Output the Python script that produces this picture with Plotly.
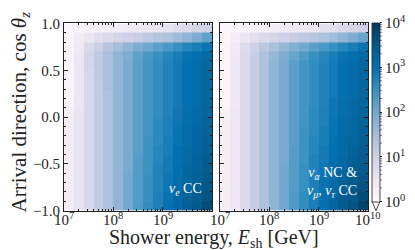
import math
import plotly.graph_objects as go

# ---------------- data ----------------
energy_edges_log10 = [7.0, 7.2, 7.4, 7.6, 7.8, 8.0, 8.2, 8.4, 8.6, 8.8, 9.0, 9.2, 9.4, 9.6, 9.8, 10.0]
cos_zenith_edges = [-1.0, -0.9, -0.8, -0.7, -0.6, -0.5, -0.4, -0.3, -0.2, -0.1, 0.0,
                    0.1, 0.2, 0.3, 0.4, 0.5, 0.6, 0.7, 0.8, 0.9, 1.0]

# log10(effective volume / km^3); rows listed from cos=1 (top) down to cos=-1 (bottom)
veff_log10_nue_cc = [
    [0.05, 0.10, 0.20, 0.25, 0.30, 0.35, 0.40, 0.45, 0.50, 0.55, 0.60, 0.70, 0.80, 0.90, 1.00],
    [0.10, 0.35, 0.55, 0.70, 0.80, 0.90, 1.00, 1.10, 1.20, 1.30, 1.40, 1.55, 1.70, 1.90, 2.15],
    [0.15, 0.45, 0.80, 1.05, 1.30, 1.50, 1.70, 1.90, 2.05, 2.20, 2.35, 2.50, 2.65, 2.80, 2.95],
    [0.15, 0.50, 0.90, 1.20, 1.45, 1.70, 1.90, 2.15, 2.35, 2.50, 2.65, 2.80, 2.95, 3.05, 3.15],
    [0.10, 0.50, 0.90, 1.20, 1.45, 1.70, 1.95, 2.20, 2.40, 2.55, 2.70, 2.85, 3.00, 3.10, 3.20],
    [0.10, 0.50, 0.85, 1.20, 1.45, 1.70, 1.95, 2.20, 2.40, 2.55, 2.70, 2.85, 3.00, 3.10, 3.20],
    [0.10, 0.50, 0.85, 1.15, 1.45, 1.70, 1.95, 2.20, 2.40, 2.55, 2.70, 2.85, 3.00, 3.10, 3.20],
    [0.10, 0.50, 0.85, 1.15, 1.40, 1.70, 1.95, 2.20, 2.40, 2.55, 2.70, 2.85, 3.00, 3.10, 3.20],
    [0.15, 0.50, 0.85, 1.15, 1.40, 1.70, 1.95, 2.20, 2.40, 2.55, 2.70, 2.85, 3.00, 3.10, 3.25],
    [0.25, 0.55, 0.85, 1.15, 1.40, 1.70, 1.95, 2.20, 2.40, 2.55, 2.70, 2.90, 3.05, 3.15, 3.25],
    [0.30, 0.55, 0.85, 1.15, 1.40, 1.70, 1.95, 2.20, 2.40, 2.60, 2.75, 2.90, 3.05, 3.15, 3.30],
    [0.30, 0.55, 0.85, 1.15, 1.40, 1.70, 1.95, 2.20, 2.40, 2.60, 2.75, 2.95, 3.10, 3.20, 3.30],
    [0.30, 0.55, 0.85, 1.15, 1.40, 1.70, 1.95, 2.20, 2.45, 2.60, 2.80, 2.95, 3.10, 3.20, 3.35],
    [0.30, 0.55, 0.85, 1.15, 1.40, 1.70, 1.95, 2.20, 2.45, 2.65, 2.80, 3.00, 3.15, 3.25, 3.35],
    [0.30, 0.55, 0.85, 1.15, 1.40, 1.70, 1.95, 2.25, 2.45, 2.65, 2.85, 3.00, 3.15, 3.30, 3.40],
    [0.30, 0.55, 0.85, 1.15, 1.40, 1.70, 1.95, 2.25, 2.45, 2.70, 2.85, 3.05, 3.20, 3.30, 3.45],
    [0.30, 0.55, 0.85, 1.15, 1.40, 1.70, 2.00, 2.25, 2.50, 2.70, 2.90, 3.05, 3.20, 3.35, 3.50],
    [0.30, 0.55, 0.85, 1.15, 1.40, 1.70, 2.00, 2.25, 2.50, 2.70, 2.90, 3.10, 3.25, 3.40, 3.55],
    [0.30, 0.55, 0.85, 1.15, 1.40, 1.70, 2.00, 2.25, 2.50, 2.75, 2.95, 3.15, 3.30, 3.45, 3.60],
    [0.30, 0.55, 0.85, 1.15, 1.40, 1.70, 2.00, 2.30, 2.55, 2.75, 3.00, 3.15, 3.35, 3.50, 3.70],
]

veff_log10_nc_numu_nutau_cc = [
    [0.05, 0.10, 0.15, 0.20, 0.25, 0.30, 0.35, 0.40, 0.45, 0.50, 0.60, 0.70, 0.80, 0.90, 1.00],
    [0.05, 0.30, 0.50, 0.65, 0.80, 0.90, 1.00, 1.10, 1.20, 1.30, 1.40, 1.55, 1.70, 1.90, 2.10],
    [0.10, 0.40, 0.75, 1.00, 1.25, 1.45, 1.65, 1.85, 2.00, 2.20, 2.35, 2.50, 2.65, 2.80, 2.95],
    [0.10, 0.45, 0.80, 1.10, 1.40, 1.65, 1.90, 2.10, 2.30, 2.50, 2.65, 2.80, 2.95, 3.05, 3.15],
    [0.05, 0.45, 0.80, 1.10, 1.40, 1.70, 1.95, 2.20, 2.40, 2.55, 2.70, 2.85, 3.00, 3.10, 3.20],
    [0.05, 0.45, 0.80, 1.10, 1.40, 1.70, 1.95, 2.20, 2.40, 2.55, 2.70, 2.85, 3.00, 3.10, 3.20],
    [0.05, 0.45, 0.80, 1.10, 1.40, 1.70, 1.95, 2.20, 2.40, 2.55, 2.70, 2.85, 3.00, 3.10, 3.20],
    [0.05, 0.45, 0.80, 1.10, 1.40, 1.70, 1.95, 2.20, 2.40, 2.55, 2.70, 2.85, 3.00, 3.10, 3.25],
    [0.10, 0.45, 0.80, 1.10, 1.40, 1.70, 1.95, 2.20, 2.40, 2.55, 2.70, 2.90, 3.05, 3.15, 3.25],
    [0.20, 0.50, 0.80, 1.10, 1.40, 1.70, 1.95, 2.20, 2.40, 2.60, 2.75, 2.90, 3.05, 3.15, 3.30],
    [0.25, 0.50, 0.80, 1.10, 1.40, 1.70, 1.95, 2.20, 2.40, 2.60, 2.75, 2.95, 3.10, 3.20, 3.30],
    [0.25, 0.50, 0.80, 1.10, 1.40, 1.70, 1.95, 2.20, 2.45, 2.60, 2.80, 2.95, 3.10, 3.20, 3.35],
    [0.25, 0.50, 0.80, 1.10, 1.40, 1.70, 1.95, 2.20, 2.45, 2.65, 2.80, 3.00, 3.15, 3.25, 3.35],
    [0.25, 0.50, 0.80, 1.10, 1.40, 1.70, 1.95, 2.25, 2.45, 2.65, 2.85, 3.00, 3.15, 3.30, 3.40],
    [0.25, 0.50, 0.80, 1.10, 1.40, 1.70, 1.95, 2.25, 2.45, 2.70, 2.85, 3.05, 3.20, 3.35, 3.45],
    [0.25, 0.50, 0.80, 1.10, 1.40, 1.70, 2.00, 2.25, 2.50, 2.70, 2.90, 3.10, 3.25, 3.40, 3.50],
    [0.25, 0.50, 0.80, 1.10, 1.40, 1.70, 2.00, 2.25, 2.50, 2.75, 2.95, 3.10, 3.30, 3.45, 3.55],
    [0.25, 0.50, 0.80, 1.10, 1.40, 1.70, 2.00, 2.25, 2.50, 2.75, 2.95, 3.15, 3.35, 3.50, 3.60],
    [0.25, 0.50, 0.80, 1.10, 1.40, 1.70, 2.00, 2.30, 2.55, 2.80, 3.00, 3.20, 3.40, 3.55, 3.70],
    [0.25, 0.50, 0.80, 1.10, 1.40, 1.70, 2.00, 2.30, 2.55, 2.80, 3.05, 3.25, 3.45, 3.60, 3.80],
]

x_tick_exponents_left = [7, 8, 9]
x_tick_exponents_right = [7, 8, 9, 10]
y_tick_values = [-1.0, -0.5, 0.0, 0.5, 1.0]
y_tick_labels = ["\u22121.0", "\u22120.5", "0.0", "0.5", "1.0"]
colorbar_exponents = [0, 1, 2, 3, 4]

panel_labels = ["<i>\u03bd<sub>e</sub></i> CC",
                "<i>\u03bd<sub>\u03b1</sub></i> NC &amp;<br><i>\u03bd<sub>\u03bc</sub></i>, <i>\u03bd<sub>\u03c4</sub></i> CC"]

# ---------------- figure ----------------
W, H = 415, 250
FONT = "Liberation Serif"
INK = "#222222"
TICK_SIZE = 15

def px(x):
    return x / W

def py(y):
    return 1 - y / H

x_edges = [10 ** e for e in energy_edges_log10]

cb_x0, cb_x1, cb_top, cb_bot, cb_tip = 364, 372, 7, 198, 208

fig = go.Figure()
for i, data in enumerate([veff_log10_nue_cc, veff_log10_nc_numu_nutau_cc]):
    fig.add_trace(go.Heatmap(
        x=x_edges, y=cos_zenith_edges, z=data[::-1],
        colorscale="PuBu", zmin=0, zmax=4,
        xaxis="x" if i == 0 else "x2", yaxis="y" if i == 0 else "y2",
        showscale=(i == 1),
        colorbar=dict(
            x=px(cb_x0), xanchor="left", y=py(cb_top), yanchor="top",
            len=(cb_bot - cb_top) / H, lenmode="fraction",
            thickness=cb_x1 - cb_x0, thicknessmode="pixels",
            xpad=0, ypad=0, outlinewidth=0.8, outlinecolor=INK,
            tickvals=colorbar_exponents,
            ticktext=[f"10<sup>{e}</sup>" for e in colorbar_exponents],
            ticks="outside", ticklen=2, tickwidth=0.8, tickcolor=INK,
            ticklabeloverflow="allow",
            tickfont=dict(family=FONT, size=TICK_SIZE, color=INK),
        ),
    ))

axis_common = dict(showgrid=False, zeroline=False, showline=True, linecolor=INK, linewidth=0.8,
                   mirror="allticks", ticks="inside", ticklen=4, tickwidth=0.8, tickcolor=INK,
                   ticklabeloverflow="allow",
                   tickfont=dict(family=FONT, size=TICK_SIZE, color=INK))
minor_log = dict(ticks="inside", ticklen=2, tickwidth=0.6, tickcolor=INK, dtick="D1", showgrid=False)
minor_lin = dict(ticks="inside", ticklen=2, tickwidth=0.6, tickcolor=INK, dtick=0.1, showgrid=False)

fig.update_layout(
    width=W, height=H, margin=dict(l=0, r=0, t=0, b=0),
    paper_bgcolor="white", plot_bgcolor="white",
    font=dict(family=FONT, size=TICK_SIZE, color=INK),
    xaxis=dict(domain=[px(56), px(204)], type="log", range=[7, 10], anchor="y",
               tickvals=[10 ** e for e in x_tick_exponents_right], showticklabels=False,
               minor=minor_log, **axis_common),
    xaxis2=dict(domain=[px(212), px(360)], type="log", range=[7, 10], anchor="y2",
                tickvals=[10 ** e for e in x_tick_exponents_right], showticklabels=False,
                minor=minor_log, **axis_common),
    yaxis=dict(domain=[py(208), py(8)], range=[-1, 1], anchor="x",
               tickvals=y_tick_values, ticktext=y_tick_labels,
               minor=minor_lin, **axis_common),
    yaxis2=dict(domain=[py(208), py(8)], range=[-1, 1], anchor="x2", showticklabels=False,
                tickvals=y_tick_values, minor=minor_lin, **axis_common),
)

annotations = [
    dict(text="Arrival direction, cos <i>\u03b8<sub>z</sub></i>", x=px(12), y=py(103),
         xref="paper", yref="paper", textangle=-90, showarrow=False, borderpad=0,
         font=dict(family=FONT, size=21, color=INK), xanchor="center", yanchor="middle"),
    dict(text="Shower energy, <i>E</i><sub>sh</sub> [GeV]", x=px(206), y=py(238),
         xref="paper", yref="paper", showarrow=False, borderpad=0,
         font=dict(family=FONT, size=20, color=INK), xanchor="center", yanchor="middle"),
    dict(text="Effective volume, IC-Gen2 Radio [km<sup>3</sup>]", x=px(405), y=py(113),
         xref="paper", yref="paper", textangle=-90, showarrow=False, borderpad=0,
         font=dict(family=FONT, size=13, color=INK), xanchor="center", yanchor="middle"),
    dict(text=panel_labels[0], x=px(196), y=py(185), xref="paper", yref="paper", showarrow=False,
         xanchor="right", yanchor="middle", align="right",
         font=dict(family=FONT, size=14, color="white")),
    dict(text=panel_labels[1], x=px(351), y=py(178), xref="paper", yref="paper", showarrow=False,
         xanchor="right", yanchor="middle", align="right",
         font=dict(family=FONT, size=14, color="white")),
]
# x tick labels placed just below the axes
for xref, exps in (("x", x_tick_exponents_left), ("x2", x_tick_exponents_right)):
    for e in exps:
        annotations.append(dict(text=f"10<sup>{e}</sup>", x=e, xref=xref, y=py(206), yref="paper",
                                xanchor="center", yanchor="top", showarrow=False,
                                borderpad=0, font=dict(family=FONT, size=TICK_SIZE, color=INK)))
fig.update_layout(annotations=annotations)

# extend-min triangle below the colorbar and colorbar minor ticks
shapes = [dict(type="path", xref="paper", yref="paper",
               path=(f"M {px(cb_x0)} {py(cb_bot)} L {px(cb_x1)} {py(cb_bot)} "
                     f"L {px((cb_x0 + cb_x1) / 2)} {py(cb_tip)} Z"),
               fillcolor="#fff7fb", line=dict(color=INK, width=0.8))]
dec_px = (cb_bot - cb_top) / 4
for d in colorbar_exponents[:-1]:
    for k in range(2, 10):
        yy = cb_bot - (d + math.log10(k)) * dec_px
        shapes.append(dict(type="line", xref="paper", yref="paper",
                           x0=px(cb_x1), x1=px(cb_x1 + 2), y0=py(yy), y1=py(yy),
                           line=dict(color=INK, width=0.6)))
fig.update_layout(shapes=shapes)

fig.write_html("out.html")
